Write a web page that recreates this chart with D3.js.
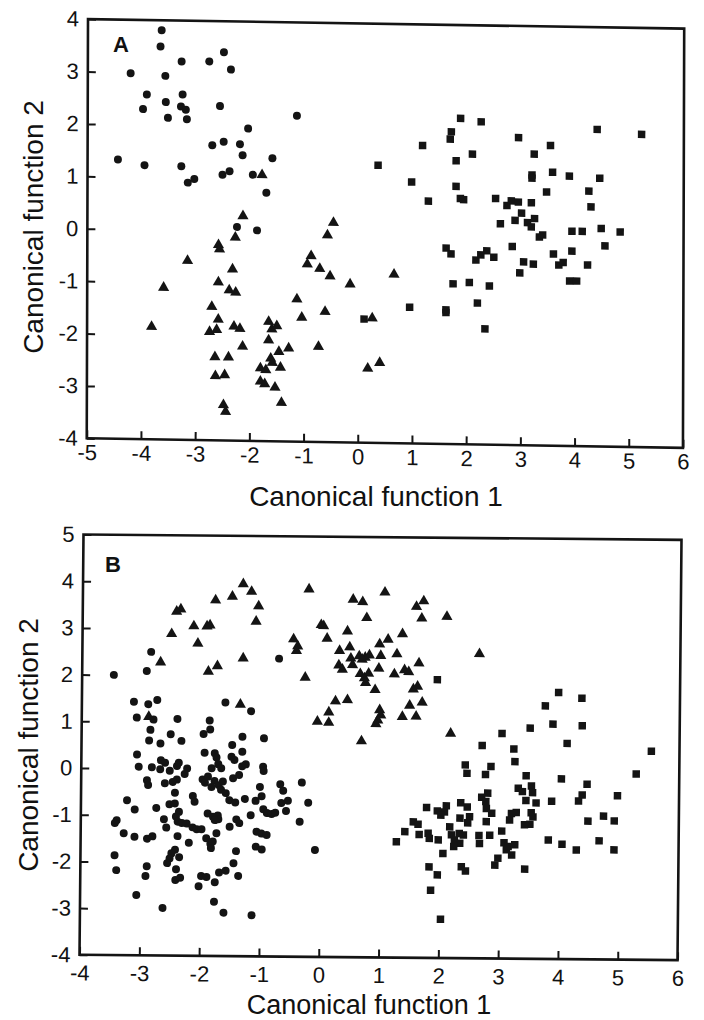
<!DOCTYPE html>
<html><head><meta charset="utf-8">
<script src="https://cdn.jsdelivr.net/npm/d3@7"></script>
<style>
body{margin:0;background:#fff}
svg{display:block}
text{font-family:"Liberation Sans",Arial,Helvetica,sans-serif;fill:#111}
</style>
</head><body>
<svg id="chart" width="704" height="1020"></svg>
<script>
// ---------- Panel A data ----------
const aXTicks = [-5,-4,-3,-2,-1,0,1,2,3,4,5,6];
const aYTicks = [-4,-3,-2,-1,0,1,2,3,4];
const aCircles = [[-3.64,3.81],[-3.66,3.50],[-4.21,2.98],[-3.57,2.94],[-3.27,3.22],[-2.76,3.23],[-2.49,3.41],[-2.36,3.08],[-3.91,2.58],[-3.98,2.30],[-3.56,2.44],[-3.52,2.14],[-3.25,2.59],[-3.28,2.36],[-3.19,2.30],[-3.17,2.12],[-2.56,2.38],[-1.14,2.22],[-2.04,1.96],[-2.70,1.63],[-2.49,1.70],[-2.19,1.66],[-2.14,1.45],[-1.59,1.40],[-4.44,1.33],[-3.95,1.23],[-3.27,1.22],[-3.15,0.91],[-3.03,0.98],[-2.51,1.07],[-2.38,1.14],[-1.95,1.08],[-1.70,0.74],[-1.87,0.02],[-2.24,0.08]];
const aTriangles = [[-1.78,1.08],[-2.13,0.29],[-2.27,-0.12],[-2.58,-0.27],[-2.56,-0.35],[-0.46,0.19],[-0.57,-0.05],[-3.15,-0.58],[-3.59,-1.10],[-3.81,-1.85],[-2.32,-0.73],[-2.58,-0.98],[-2.38,-1.13],[-2.26,-1.17],[-2.70,-1.45],[-2.58,-1.69],[-2.74,-1.93],[-2.61,-1.89],[-2.29,-1.82],[-2.18,-1.86],[-2.13,-2.20],[-2.64,-2.41],[-2.39,-2.41],[-2.63,-2.77],[-2.46,-2.75],[-2.48,-3.32],[-2.44,-3.45],[-1.65,-1.72],[-1.59,-1.86],[-1.50,-1.80],[-1.65,-2.07],[-1.28,-2.22],[-1.46,-2.29],[-1.61,-2.42],[-1.58,-2.50],[-1.80,-2.61],[-1.70,-2.64],[-1.43,-2.59],[-1.80,-2.86],[-1.72,-2.91],[-1.53,-2.97],[-1.41,-3.26],[-1.13,-1.28],[-1.04,-1.63],[-0.73,-2.18],[-0.87,-0.45],[-0.94,-0.61],[-0.71,-0.69],[-0.52,-0.83],[-0.61,-1.51],[-0.15,-0.98],[0.66,-0.78],[0.26,-1.62],[0.18,-2.58],[0.40,-2.47]];
const aSquares = [[1.88,2.22],[2.26,2.16],[1.71,1.96],[1.69,1.82],[1.18,1.69],[0.36,1.30],[1.80,1.41],[2.10,1.54],[2.95,1.87],[3.54,1.73],[3.24,1.56],[4.40,2.05],[5.22,1.97],[0.98,0.99],[1.80,0.92],[1.29,0.63],[1.88,0.69],[1.94,0.67],[3.20,1.16],[3.20,1.10],[3.58,1.22],[3.89,1.15],[4.45,1.12],[3.47,0.84],[4.25,0.87],[4.29,0.57],[2.53,0.70],[2.74,0.57],[2.82,0.66],[2.95,0.64],[3.19,0.63],[3.01,0.43],[2.62,0.22],[2.89,0.29],[3.12,0.25],[3.19,0.17],[3.25,0.33],[3.34,-0.02],[3.40,0.02],[3.94,0.10],[4.13,0.10],[4.48,0.16],[4.83,0.10],[1.62,-0.26],[1.71,-0.37],[2.17,-0.48],[2.26,-0.38],[2.37,-0.30],[2.50,-0.42],[2.84,-0.21],[3.05,-0.50],[3.23,-0.54],[2.98,-0.71],[3.60,-0.34],[3.94,-0.28],[3.70,-0.55],[3.78,-0.50],[4.23,-0.54],[4.55,-0.17],[3.90,-0.85],[4.03,-0.85],[1.75,-0.94],[2.05,-0.91],[2.42,-0.97],[0.95,-1.40],[1.62,-1.44],[1.62,-1.49],[2.20,-1.30],[2.34,-1.79],[0.11,-1.64]];

// ---------- Panel B data ----------
const bXTicks = [-4,-3,-2,-1,0,1,2,3,4,5,6];
const bYTicks = [-4,-3,-2,-1,0,1,2,3,4,5];
const bCircles = [[-2.85,2.50],[-2.92,2.09],[-3.47,2.00],[-0.71,2.38],[-3.13,1.43],[-2.89,1.38],[-2.74,1.47],[-1.60,1.43],[-1.17,1.25],[-3.08,1.09],[-2.80,1.05],[-2.40,1.07],[-1.86,1.04],[-1.85,0.85],[-1.96,0.75],[-2.85,0.83],[-2.51,0.74],[-2.87,0.60],[-2.68,0.54],[-2.33,0.60],[-1.31,0.70],[-0.95,0.67],[-1.48,0.52],[-1.31,0.38],[-3.07,0.30],[-3.04,0.04],[-2.82,0.03],[-2.67,0.18],[-2.60,0.13],[-2.68,-0.01],[-2.52,-0.04],[-2.40,0.06],[-2.37,0.13],[-2.23,0.01],[-2.27,-0.11],[-2.40,-0.23],[-2.47,-0.28],[-2.90,-0.25],[-2.88,-0.35],[-2.60,-0.31],[-1.94,0.35],[-1.77,0.34],[-1.74,0.25],[-1.82,0.02],[-1.71,0.11],[-1.66,0.02],[-1.49,0.27],[-1.44,0.20],[-1.31,0.07],[-1.25,0.11],[-0.96,0.06],[-0.95,-0.03],[-1.46,-0.19],[-1.36,-0.12],[-1.97,-0.22],[-1.93,-0.29],[-1.88,-0.16],[-1.77,-0.25],[-1.70,-0.34],[-1.63,-0.26],[-1.66,-0.44],[-1.58,-0.51],[-1.82,-0.38],[-1.01,-0.37],[-0.67,-0.31],[-0.62,-0.45],[-0.31,-0.27],[-2.43,-0.51],[-2.13,-0.58],[-2.10,-0.70],[-1.52,-0.66],[-1.42,-0.71],[-1.26,-0.63],[-1.08,-0.67],[-0.98,-0.57],[-0.65,-0.71],[-0.54,-0.66],[-0.20,-0.70],[-3.23,-0.68],[-3.10,-0.88],[-2.74,-0.84],[-2.52,-0.76],[-2.43,-0.74],[-2.36,-0.92],[-2.41,-1.02],[-2.61,-1.08],[-3.40,-1.11],[-3.43,-1.17],[-2.38,-1.13],[-2.31,-1.16],[-2.23,-1.17],[-2.13,-1.25],[-2.06,-1.29],[-1.98,-1.29],[-2.57,-1.26],[-1.88,-0.95],[-1.79,-1.02],[-1.71,-0.99],[-1.70,-1.07],[-1.76,-1.09],[-1.40,-1.07],[-1.35,-1.15],[-1.51,-1.23],[-1.16,-0.98],[-0.95,-0.85],[-0.89,-0.93],[-0.81,-0.95],[-0.75,-0.92],[-0.57,-0.88],[-0.34,-1.11],[-3.28,-1.39],[-3.10,-1.46],[-2.89,-1.50],[-2.80,-1.45],[-2.38,-1.44],[-2.19,-1.58],[-1.73,-1.37],[-1.90,-1.48],[-1.83,-1.60],[-1.79,-1.55],[-1.82,-1.69],[-1.06,-1.33],[-0.98,-1.37],[-0.89,-1.40],[-1.07,-1.65],[-0.97,-1.71],[-0.08,-1.71],[-3.43,-1.86],[-3.40,-2.18],[-2.42,-1.73],[-2.48,-1.81],[-2.51,-1.92],[-2.55,-2.02],[-2.35,-1.89],[-2.89,-2.09],[-2.91,-2.30],[-2.40,-2.15],[-2.41,-2.38],[-2.33,-2.33],[-1.98,-2.29],[-1.89,-2.31],[-2.02,-2.51],[-1.75,-2.42],[-1.68,-2.21],[-1.57,-2.17],[-1.44,-2.01],[-1.40,-1.75],[-1.36,-2.28],[-3.06,-2.71],[-2.62,-2.98],[-1.76,-2.84],[-1.60,-3.07],[-1.13,-3.12]];
const bTriangles = [[-1.32,3.97],[-1.18,3.81],[-1.50,3.70],[-1.78,3.62],[-1.06,3.50],[-2.36,3.42],[-2.43,3.37],[-1.10,3.17],[-2.14,3.06],[-1.92,3.06],[-1.87,3.08],[-2.51,2.89],[-2.07,2.69],[-2.69,2.28],[-1.31,2.38],[-1.89,2.09],[-1.74,2.21],[-1.35,1.39],[-2.88,1.11],[-0.22,3.87],[0.03,3.09],[-0.01,3.11],[0.09,2.82],[-0.47,2.80],[-0.40,2.65],[-0.42,2.55],[-0.27,1.98],[0.52,3.66],[0.68,3.61],[1.05,3.82],[0.75,3.27],[1.70,3.64],[1.58,3.52],[1.67,3.27],[2.09,3.31],[0.43,2.98],[1.35,2.93],[0.47,2.64],[0.30,2.56],[0.97,2.71],[1.11,2.81],[0.49,2.40],[0.63,2.45],[0.73,2.42],[0.80,2.47],[0.68,2.38],[0.99,2.46],[1.26,2.50],[0.29,2.25],[0.35,2.16],[0.52,2.26],[0.65,2.07],[0.72,1.98],[0.79,2.08],[0.74,1.88],[0.96,2.19],[1.22,2.07],[1.39,2.16],[1.46,2.12],[1.63,2.31],[0.90,1.73],[1.54,1.75],[1.61,1.81],[0.24,1.48],[0.44,1.51],[1.48,1.40],[1.69,1.47],[0.13,1.24],[-0.06,1.04],[0.13,1.02],[0.98,1.30],[1.00,1.19],[0.95,1.08],[0.92,1.00],[1.36,1.16],[1.59,1.17],[2.17,0.81],[2.64,2.52],[0.68,0.63]];
const bSquares = [[1.94,1.96],[3.97,1.71],[4.36,1.59],[3.75,1.42],[3.50,0.94],[3.88,1.03],[4.37,1.00],[3.03,0.82],[4.12,0.62],[2.70,0.56],[3.23,0.49],[3.25,0.22],[5.53,0.47],[5.28,-0.02],[2.42,0.14],[2.45,-0.04],[2.85,0.11],[2.76,-0.06],[3.44,-0.08],[4.03,-0.14],[4.46,-0.25],[3.31,-0.35],[3.38,-0.42],[3.53,-0.30],[3.55,-0.44],[3.44,-0.61],[3.61,-0.66],[3.87,-0.62],[4.38,-0.48],[4.32,-0.61],[4.97,-0.49],[2.70,-0.55],[2.80,-0.46],[2.77,-0.64],[2.78,-0.79],[2.35,-0.67],[2.46,-0.76],[2.11,-0.74],[2.08,-0.87],[1.78,-0.78],[1.96,-0.85],[2.02,-0.94],[2.87,-0.89],[2.78,-1.07],[3.20,-0.89],[3.28,-0.87],[3.17,-1.03],[3.53,-0.87],[3.56,-0.96],[3.51,-1.12],[3.42,-1.13],[2.50,-0.97],[2.47,-1.10],[2.34,-1.00],[2.17,-1.19],[1.56,-1.09],[1.64,-1.14],[1.42,-1.30],[1.28,-1.52],[1.66,-1.36],[1.81,-1.33],[1.83,-1.44],[1.98,-1.47],[2.20,-1.36],[2.33,-1.33],[2.40,-1.36],[2.25,-1.47],[2.34,-1.54],[2.24,-1.61],[2.66,-1.37],[2.67,-1.54],[2.84,-1.36],[3.04,-1.27],[3.08,-1.52],[3.15,-1.60],[3.26,-1.56],[3.21,-1.78],[3.12,-1.67],[2.98,-1.85],[2.93,-2.00],[2.06,-1.76],[1.83,-2.05],[1.97,-2.22],[2.37,-2.04],[2.44,-2.13],[3.43,-2.08],[3.82,-1.45],[4.05,-1.54],[4.29,-1.66],[4.48,-1.04],[4.74,-0.93],[4.92,-1.03],[4.67,-1.46],[4.92,-1.65],[1.86,-2.55],[2.03,-3.17]];

const xTitle = "Canonical function 1";
const yTitle = "Canonical function 2";

const svg = d3.select("#chart");
svg.append("rect").attr("width",704).attr("height",1020).attr("fill","#fff");
const INK = "#141414";

const symCircle = d3.symbol(d3.symbolCircle, 50)();
const symSquare = d3.symbol(d3.symbolSquare, 56)();
const symTriangle = d3.symbol(d3.symbolTriangle, 54)();

function drawPanel(o){
  const g = svg.append("g").attr("transform", "matrix(" + o.m.join(",") + ")");
  const x = d3.scaleLinear().domain(o.xDomain).range([0, o.w]);
  const y = d3.scaleLinear().domain(o.yDomain).range([o.h, 0]);

  const fmt = d => String(d);
  const xa = g.append("g").attr("transform", "translate(0," + o.h + ")")
    .call(d3.axisBottom(x).tickValues(o.xTicks).tickSizeInner(-8).tickSizeOuter(0)
      .tickPadding(o.xPad).tickFormat(fmt));
  const ya = g.append("g")
    .call(d3.axisLeft(y).tickValues(o.yTicks).tickSizeInner(-8).tickSizeOuter(0)
      .tickPadding(9).tickFormat(fmt));
  [xa, ya].forEach(a => {
    a.select(".domain").remove();
    a.selectAll("line").attr("stroke", INK).attr("stroke-width", 2);
    a.selectAll("text").attr("font-size", 22).attr("fill", INK)
      .attr("font-family", "'Liberation Sans', Arial, sans-serif");
  });

  g.append("rect").attr("width", o.w).attr("height", o.h)
    .attr("fill", "none").attr("stroke", INK).attr("stroke-width", 2.6);

  const series = [[o.circles, symCircle], [o.triangles, symTriangle], [o.squares, symSquare]];
  series.forEach(([data, sym]) => {
    g.append("g").selectAll("path").data(data).join("path")
      .attr("d", sym)
      .attr("transform", d => "translate(" + x(d[0]) + "," + y(d[1]) + ")")
      .attr("fill", INK);
  });

  svg.append("text").attr("x", o.label[0]).attr("y", o.label[1])
    .attr("font-size", 22).attr("font-weight", "bold").text(o.letter);
  svg.append("text").attr("x", o.xt[0]).attr("y", o.xt[1]).attr("text-anchor", "middle")
    .attr("font-size", o.tSize).text(xTitle);
  svg.append("text").attr("transform", "translate(" + o.yt[0] + "," + o.yt[1] + ") rotate(-90)")
    .attr("text-anchor", "middle").attr("font-size", 28).text(yTitle);
}

drawPanel({
  m: [1, 0.016, -0.003, 1, 88, 19.1], w: 596.2, h: 419.2,
  xDomain: [-5, 6], yDomain: [-4, 4], xTicks: aXTicks, yTicks: aYTicks, xPad: 6,
  circles: aCircles, triangles: aTriangles, squares: aSquares,
  letter: "A", label: [113, 52], xt: [376, 506], yt: [43, 227], tSize: 28
});
drawPanel({
  m: [1, 0.009, -0.0095, 1, 83.5, 534.5], w: 598, h: 420.3,
  xDomain: [-4, 6], yDomain: [-4, 5], xTicks: bXTicks, yTicks: bYTicks, xPad: 10,
  circles: bCircles, triangles: bTriangles, squares: bSquares,
  letter: "B", label: [105, 572], xt: [369, 1014], yt: [38, 745], tSize: 27
});
</script>
</body></html>
